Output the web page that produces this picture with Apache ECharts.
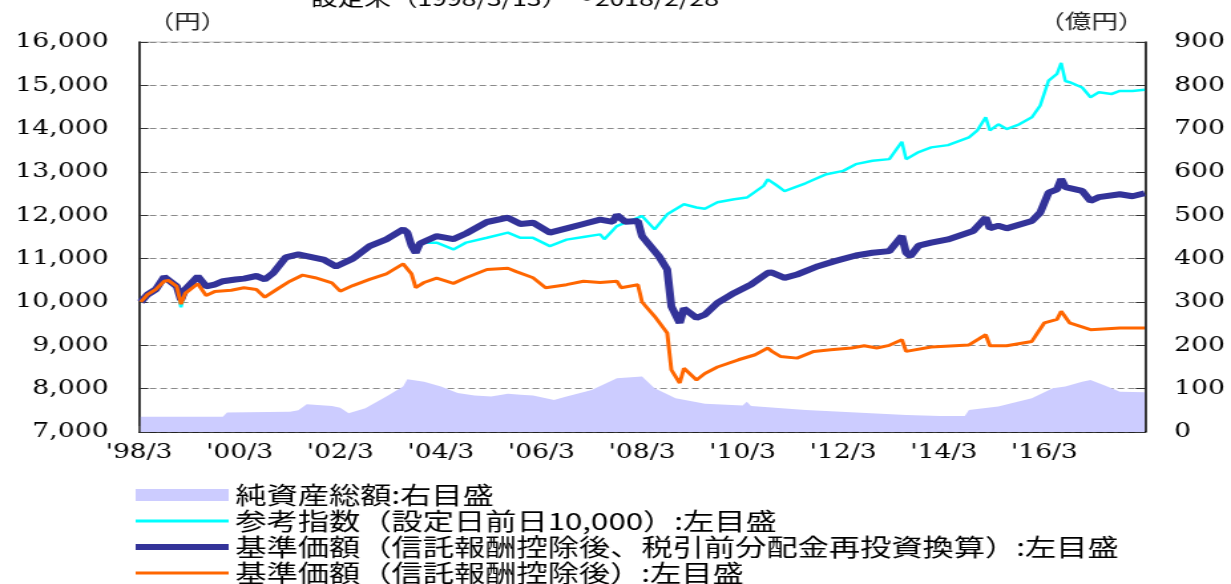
<!DOCTYPE html>
<html>
<head>
<meta charset="utf-8">
<script src="https://cdn.jsdelivr.net/npm/echarts@6.0.0/dist/echarts.min.js"></script>
<style>
html, body { margin: 0; padding: 0; background: #fff; overflow: hidden; }
/* the reference picture is stretched sideways, so the chart is drawn narrow and widened */
#chart { width: 926px; height: 584px; transform: scaleX(1.32937); transform-origin: 0 0; }
</style>
</head>
<body>
<div id="chart"></div>
<script>
// 純資産総額 (億円, right axis)
var navDates = ['1998/03/13','1999/11','1999/12','2001/03','2001/05','2001/07','2002/01','2002/03','2002/05','2002/09',
  '2003/02','2003/06','2003/07','2003/11','2004/03','2004/07','2004/11','2005/03','2005/07','2005/10',
  '2006/01','2006/06','2006/09','2007/03','2007/09','2008/03','2008/06','2008/11','2009/06','2010/03',
  '2010/04','2010/05','2011/06','2012/06','2013/06','2014/02','2014/08','2014/09','2015/04','2015/12',
  '2016/05','2016/08','2016/12','2017/02','2017/06','2017/09','2018/02/28'];
var navValues = [35,35,45,47,50,64,60,56,43,55,
  82,105,122,116,105,90,84,82,88,86,
  84,74,82,97,124,128,101,78,65,61,
  70,60,51,45,39,37,37,51,59,78,
  101,105,116,120,105,93,92];

// 参考指数 (円, left axis)
var idxDates = ['1998/03/13','1998/05','1998/07','1998/09','1998/12','1999/01','1999/02','1999/05','1999/07','1999/09',
  '1999/11','2000/02','2000/04','2000/07','2000/09','2000/11','2001/02','2001/05','2001/07','2001/11',
  '2002/02','2002/06','2002/10','2003/02','2003/06','2003/07','2003/08','2003/09','2003/10','2003/11',
  '2004/02','2004/06','2004/09','2005/02','2005/07','2005/10','2006/01','2006/05','2006/09','2007/01',
  '2007/05','2007/06','2007/09','2007/12','2008/03','2008/06','2008/09','2009/01','2009/04','2009/06',
  '2009/09','2010/01','2010/04','2010/08','2010/09','2010/11','2011/01','2011/06','2011/11','2012/03',
  '2012/06','2012/10','2013/02','2013/05','2013/06','2013/09','2013/12','2014/04','2014/09','2014/11',
  '2015/01','2015/02','2015/04','2015/06','2015/09','2015/12','2016/02','2016/04','2016/06','2016/07',
  '2016/08','2016/09','2016/12','2017/02','2017/04','2017/07','2017/09','2017/12','2018/02/28'];
var idxValues = [10000,10170,10290,10560,10330,9880,10250,10560,10330,10380,
  10450,10500,10520,10590,10500,10660,11020,11090,11040,10990,
  10840,11000,11290,11440,11670,11600,11350,11200,11300,11368,
  11370,11213,11370,11482,11600,11480,11480,11290,11440,11500,
  11560,11450,11753,11869,11984,11676,12023,12255,12180,12150,
  12300,12371,12410,12680,12830,12700,12560,12740,12950,13026,
  13181,13258,13297,13697,13297,13460,13568,13620,13800,13960,
  14262,13960,14100,13991,14100,14262,14531,15110,15265,15519,
  15100,15072,14950,14725,14841,14800,14870,14870,14900];

// 基準価額 (信託報酬控除後、税引前分配金再投資換算)
var reinvDates = ['1998/03/13','1998/05','1998/07','1998/09','1998/12','1999/01','1999/02','1999/05','1999/07','1999/09',
  '1999/11','2000/02','2000/04','2000/07','2000/09','2000/11','2001/02','2001/05','2001/07','2001/11',
  '2002/02','2002/06','2002/10','2003/02','2003/06','2003/07','2003/08','2003/09','2003/10','2004/02',
  '2004/06','2004/09','2005/02','2005/07','2005/10','2006/01','2006/05','2006/09','2007/01','2007/05',
  '2007/08','2007/09','2007/11','2008/02','2008/03','2008/07','2008/09','2008/10','2008/12','2009/01',
  '2009/04','2009/06','2009/09','2010/01','2010/05','2010/09','2010/10','2011/01','2011/04','2011/09',
  '2012/01','2012/06','2012/10','2013/02','2013/05','2013/06','2013/07','2013/09','2013/12','2014/04',
  '2014/10','2015/01','2015/02','2015/04','2015/06','2015/12','2016/02','2016/04','2016/06','2016/07',
  '2016/08','2016/12','2017/02','2017/04','2017/09','2017/12','2018/02/28'];
var reinvValues = [10000,10170,10290,10580,10360,10050,10290,10590,10360,10400,
  10480,10520,10540,10600,10520,10670,11030,11100,11060,10980,
  10820,11000,11290,11445,11676,11600,11300,11136,11350,11520,
  11450,11580,11846,11946,11800,11830,11600,11700,11800,11900,
  11850,12010,11850,11869,11520,11058,10750,9900,9516,9850,
  9632,9709,9979,10210,10403,10673,10680,10558,10635,10827,
  10943,11074,11136,11174,11521,11136,11058,11300,11368,11445,
  11637,11946,11700,11760,11700,11869,12063,12525,12600,12834,
  12650,12564,12332,12420,12486,12440,12510];

// 基準価額 (信託報酬控除後)
var priceDates = ['1998/03/13','1998/05','1998/07','1998/09','1998/10','1998/12','1999/01','1999/02','1999/05','1999/07',
  '1999/09','2000/01','2000/04','2000/07','2000/09','2000/12','2001/03','2001/06','2001/09','2002/01',
  '2002/03','2002/06','2002/10','2003/02','2003/06','2003/08','2003/09','2003/11','2004/02','2004/06',
  '2004/09','2005/02','2005/07','2005/09','2006/01','2006/04','2006/09','2007/01','2007/05','2007/09',
  '2007/10','2008/02','2008/03','2008/06','2008/09','2008/10','2008/12','2009/01','2009/04','2009/06',
  '2009/09','2010/02','2010/06','2010/09','2010/10','2010/12','2011/04','2011/08','2011/12','2012/05',
  '2012/08','2012/11','2013/02','2013/05','2013/06','2013/12','2014/09','2015/01','2015/02','2015/06',
  '2015/12','2016/03','2016/06','2016/07','2016/09','2017/02','2017/09','2018/02/28'];
var priceValues = [10000,10170,10290,10480,10500,10360,9950,10200,10420,10150,
  10240,10270,10330,10290,10110,10300,10480,10620,10560,10440,
  10250,10380,10520,10650,10880,10650,10330,10450,10550,10430,
  10560,10750,10780,10700,10560,10330,10400,10480,10450,10480,
  10330,10400,10000,9670,9285,8435,8130,8470,8200,8350,
  8500,8667,8783,8937,8860,8744,8705,8860,8898,8937,
  8991,8937,9000,9130,8860,8960,9010,9245,8990,8990,
  9090,9520,9600,9785,9520,9360,9400,9400];

var seriesNames = [
  '純資産総額:右目盛',
  '参考指数（設定日前日10,000）:左目盛',
  '基準価額（信託報酬控除後、税引前分配金再投資換算）:左目盛',
  '基準価額（信託報酬控除後）:左目盛'
];

// months since 1998/3
function toMonth(s) {
  var p = s.split('/');
  var m = (+p[0] - 1998) * 12 + (+p[1] - 3);
  if (p[2]) m += (+p[2] - 1) / 30;
  return m;
}
function pairs(dates, values) {
  return dates.map(function (d, i) { return [toMonth(d), values[i]]; });
}

var serif = 'DejaVu Serif';
var cjk = 'Noto Sans CJK JP';
// hides the little circle echarts puts on line legend icons
var noSymbol = { opacity: 0, color: 'transparent', borderWidth: 0 };

var myChart = echarts.init(document.getElementById('chart'));
myChart.setOption({
  animation: false,
  backgroundColor: '#fff',
  title: {
    text: '設定来（1998/3/13）～2018/2/28',
    left: 229, top: -17,
    textStyle: { fontSize: 20, fontWeight: 'normal', fontFamily: cjk, color: '#000' }
  },
  grid: {
    left: 104.6, right: 64.7, top: 42, bottom: 152,
    show: true, borderColor: '#c0c0c0', borderWidth: 1,
    containLabel: false, outerBoundsMode: 'none'
  },
  legend: {
    orient: 'vertical', left: 99, top: 482, height: 130, padding: 0,
    itemWidth: 70, itemHeight: 12, itemGap: 0,
    selectedMode: false,
    textStyle: { fontSize: 23.5, lineHeight: 26, fontFamily: cjk, color: '#000' },
    data: [
      { name: seriesNames[0], icon: 'rect' },
      { name: seriesNames[1], itemStyle: noSymbol, lineStyle: { width: 3 } },
      { name: seriesNames[2], itemStyle: noSymbol, lineStyle: { width: 6 } },
      { name: seriesNames[3], itemStyle: noSymbol, lineStyle: { width: 3 } }
    ]
  },
  xAxis: {
    type: 'value', min: 0, max: 240, interval: 24,
    axisLine: { show: true, lineStyle: { color: '#000', width: 1.5 } },
    axisTick: { show: true, inside: true, length: 6, lineStyle: { color: '#555', width: 1.5 } },
    axisLabel: {
      margin: 11, fontSize: 20, fontFamily: serif, color: '#000',
      showMinLabel: true, showMaxLabel: false,
      formatter: function (v) {
        if (v % 24 !== 0 || v >= 240) return '';
        var y = (1998 + v / 12) % 100;
        return "'" + (y < 10 ? '0' : '') + y + '/3';
      }
    },
    splitLine: { show: false }
  },
  yAxis: [{
    type: 'value', min: 7000, max: 16000, interval: 1000,
    axisLine: { show: true, lineStyle: { color: '#000', width: 1.5 } },
    axisTick: { show: true, inside: true, length: 7, lineStyle: { color: '#333' } },
    axisLabel: {
      margin: 23, fontSize: 20, fontFamily: serif, color: '#000',
      showMinLabel: true, showMaxLabel: true,
      formatter: function (v) { return v.toLocaleString('en-US'); }
    },
    splitLine: { show: true, lineStyle: { color: '#8a8a8a', width: 1, type: [5, 3] } }
  }, {
    type: 'value', min: 0, max: 900, interval: 100, position: 'right',
    axisLine: { show: true, lineStyle: { color: '#000', width: 1.5 } },
    axisTick: { show: true, inside: true, length: 7, lineStyle: { color: '#333' } },
    axisLabel: {
      margin: 22, fontSize: 20, fontFamily: serif, color: '#000',
      showMinLabel: true, showMaxLabel: true
    },
    splitLine: { show: false }
  }],
  graphic: [
    { type: 'text', left: 111, top: 11, style: { text: '（円）', fontSize: 20, fontFamily: cjk, fill: '#222' } },
    { type: 'text', left: 781, top: 11, style: { text: '（億円）', fontSize: 20, fontFamily: cjk, fill: '#222' } }
  ],
  series: [{
    name: seriesNames[0], type: 'line', yAxisIndex: 1,
    data: pairs(navDates, navValues),
    symbol: 'none',
    lineStyle: { width: 0 },
    itemStyle: { color: '#ccccff' },
    areaStyle: { color: '#ccccff', opacity: 1 },
    z: 1
  }, {
    name: seriesNames[1], type: 'line',
    data: pairs(idxDates, idxValues),
    symbol: 'none',
    itemStyle: { color: '#00ffff' },
    lineStyle: { color: '#00ffff', width: 2.5 },
    z: 2
  }, {
    name: seriesNames[2], type: 'line',
    data: pairs(reinvDates, reinvValues),
    symbol: 'none',
    itemStyle: { color: '#333399' },
    lineStyle: { color: '#333399', width: 6 },
    z: 3
  }, {
    name: seriesNames[3], type: 'line',
    data: pairs(priceDates, priceValues),
    symbol: 'none',
    itemStyle: { color: '#ff6600' },
    lineStyle: { color: '#ff6600', width: 3 },
    z: 4
  }]
});
window.addEventListener('resize', function () {
  myChart.resize();
});
</script>
</body>
</html>
